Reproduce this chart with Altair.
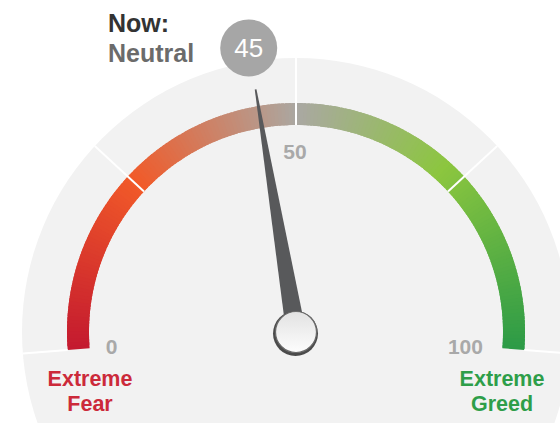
import altair as alt
import pandas as pd

# ---------------- data ----------------
now_value = [45]
now_title = "Now:"
now_rating = "Neutral"
tick_values = [0, 50, 100]
tick_text = ["0", "50", "100"]
separator_values = [0, 25, 50, 75, 100]
gradient_stops = [0, 25, 50, 72, 100]
gradient_colors = ["#c41a2f", "#f15a29", "#aaa8a2", "#8cc63f", "#2b9a47"]
fear_text = ["Extreme", "Fear"]
greed_text = ["Extreme", "Greed"]

# ---------------- layout ----------------
W, H = 560, 423
CX, CY = 296, 332          # gauge centre in pixels
HALF = 94.5                # half sweep of the dial, degrees
R_BG, R_OUT, R_IN = 274, 229, 207
R_NEEDLE, R_BADGE, R_TICK = 246, 288, 181
FONT = "Liberation Sans"
PI = 3.141592653589793

ANG = f"(datum.v*{2 * HALF / 100} - {HALF})*PI/180"
xs = alt.Scale(domain=[-CX, W - CX], nice=False, zero=False)
ys = alt.Scale(domain=[CY - H, CY], nice=False, zero=False)
X0 = alt.X(datum=0, scale=xs, axis=None)
Y0 = alt.Y(datum=0, scale=ys, axis=None)
theta_scale = alt.Scale(domain=[0, 100], range=[2 * PI - HALF * PI / 180, 2 * PI + HALF * PI / 180])

one = pd.DataFrame({"v": now_value})

# background disc
bg = alt.Chart(one).mark_arc(radius=R_BG, theta=0, theta2=6.2832, color="#f2f2f2").encode(x=X0, y=Y0)

# gradient band
band = (
    alt.Chart(alt.sequence(0, 100, 0.5, as_="v"))
    .transform_calculate(v2="min(datum.v + 0.9, 100)")
    .mark_arc(radius=R_OUT, radius2=R_IN)
    .encode(
        x=X0, y=Y0,
        theta=alt.Theta("v:Q", scale=theta_scale, stack=None),
        theta2="v2:Q",
        color=alt.Color("v:Q", scale=alt.Scale(domain=gradient_stops, range=gradient_colors, interpolate="rgb"), legend=None),
    )
)

# separators
sep = (
    alt.Chart(pd.DataFrame({"v": separator_values}))
    .transform_calculate(t=ANG)
    .transform_calculate(r1=f"(datum.v == 0 || datum.v == 100) ? {R_OUT} : {R_IN}")
    .transform_calculate(x1="datum.r1*sin(datum.t)", y1="datum.r1*cos(datum.t)",
                         x2=f"{R_BG}*sin(datum.t)", y2=f"{R_BG}*cos(datum.t)")
    .mark_rule(color="white", strokeWidth=2)
    .encode(x=alt.X("x1:Q", scale=xs, axis=None), y=alt.Y("y1:Q", scale=ys, axis=None), x2="x2:Q", y2="y2:Q")
)

# tick labels
ticks_df = pd.DataFrame({"v": tick_values, "label": tick_text})
tick_offsets = {0: -4, 50: -1, 100: -11}
tick_layers = []
for tv, dx in tick_offsets.items():
    tick_layers.append(
        alt.Chart(ticks_df)
        .transform_filter(f"datum.v == {tv}")
        .transform_calculate(t=ANG)
        .transform_calculate(x=f"{R_TICK}*sin(datum.t)", y=f"{R_TICK}*cos(datum.t)")
        .mark_text(font=FONT, fontSize=21, fontWeight="bold", color="#a9a9a9", align="center", baseline="middle", dx=dx, dy=2)
        .encode(x=alt.X("x:Q", scale=xs, axis=None), y=alt.Y("y:Q", scale=ys, axis=None), text="label:N")
    )

# needle
needle_path = "M -0.041 0.02 L -0.0035 -1 L 0.0035 -1 L 0.041 0.02 Z"
needle = (
    alt.Chart(one)
    .mark_point(shape=needle_path, size=(2 * R_NEEDLE) ** 2, filled=True, color="#58595b", opacity=1, strokeWidth=0)
    .encode(x=X0, y=Y0, angle=alt.Angle("v:Q", scale=alt.Scale(domain=[0, 100], range=[360 - HALF, 360 + HALF])))
)

# hub
hub_shadow = alt.Chart(one).mark_point(shape="circle", size=45 ** 2, filled=True, color="#4b4b4b", opacity=1,
                                       xOffset=-0.5, yOffset=1.5).encode(x=X0, y=Y0)
hub = alt.Chart(one).mark_point(
    shape="circle", size=41 ** 2, filled=True, opacity=1,
    fill={"gradient": "linear", "x1": 0.5, "y1": 0, "x2": 0.5, "y2": 1,
          "stops": [{"offset": 0, "color": "#e2e2e2"}, {"offset": 1, "color": "#fdfdfd"}]},
    stroke="#6a6a6a", strokeWidth=1.2,
).encode(x=X0, y=Y0)

# badge
badge_base = alt.Chart(one).transform_calculate(t=ANG).transform_calculate(
    bx=f"{R_BADGE}*sin(datum.t)", by=f"{R_BADGE}*cos(datum.t)")
badge = badge_base.mark_circle(size=57 ** 2, color="#a6a6a6", opacity=1).encode(
    x=alt.X("bx:Q", scale=xs, axis=None), y=alt.Y("by:Q", scale=ys, axis=None))
badge_txt = badge_base.mark_text(font=FONT, fontSize=26, color="white", align="center", baseline="middle", dy=1).encode(
    x=alt.X("bx:Q", scale=xs, axis=None), y=alt.Y("by:Q", scale=ys, axis=None), text="v:Q")

# annotation texts
now_t = alt.Chart(one).mark_text(text=now_title, font=FONT, fontSize=25, fontWeight="bold", color="#333333",
                                 align="left", baseline="alphabetic").encode(x=alt.value(108), y=alt.value(32))
rating_t = alt.Chart(one).mark_text(text=now_rating, font=FONT, fontSize=25, fontWeight="bold", color="#6b6b6b",
                                    align="left", baseline="alphabetic").encode(x=alt.value(108), y=alt.value(62))
fear_t = alt.Chart(one).mark_text(text=fear_text, font=FONT, fontSize=21.5, fontWeight="bold", color="#cc2a3a",
                                  align="center", baseline="alphabetic", lineHeight=25).encode(x=alt.value(90), y=alt.value(386))
greed_t = alt.Chart(one).mark_text(text=greed_text, font=FONT, fontSize=21.5, fontWeight="bold", color="#2e9e49",
                                   align="center", baseline="alphabetic", lineHeight=25).encode(x=alt.value(502), y=alt.value(386))

chart = alt.layer(
    bg, band, sep, *tick_layers, needle, hub_shadow, hub, badge, badge_txt, now_t, rating_t, fear_t, greed_t
).properties(
    width=W, height=H, padding=0, autosize=alt.AutoSizeParams(type="none"), background="white"
).configure_view(stroke=None)

chart.save("out.html", embed_options={"renderer": "svg", "actions": False})
